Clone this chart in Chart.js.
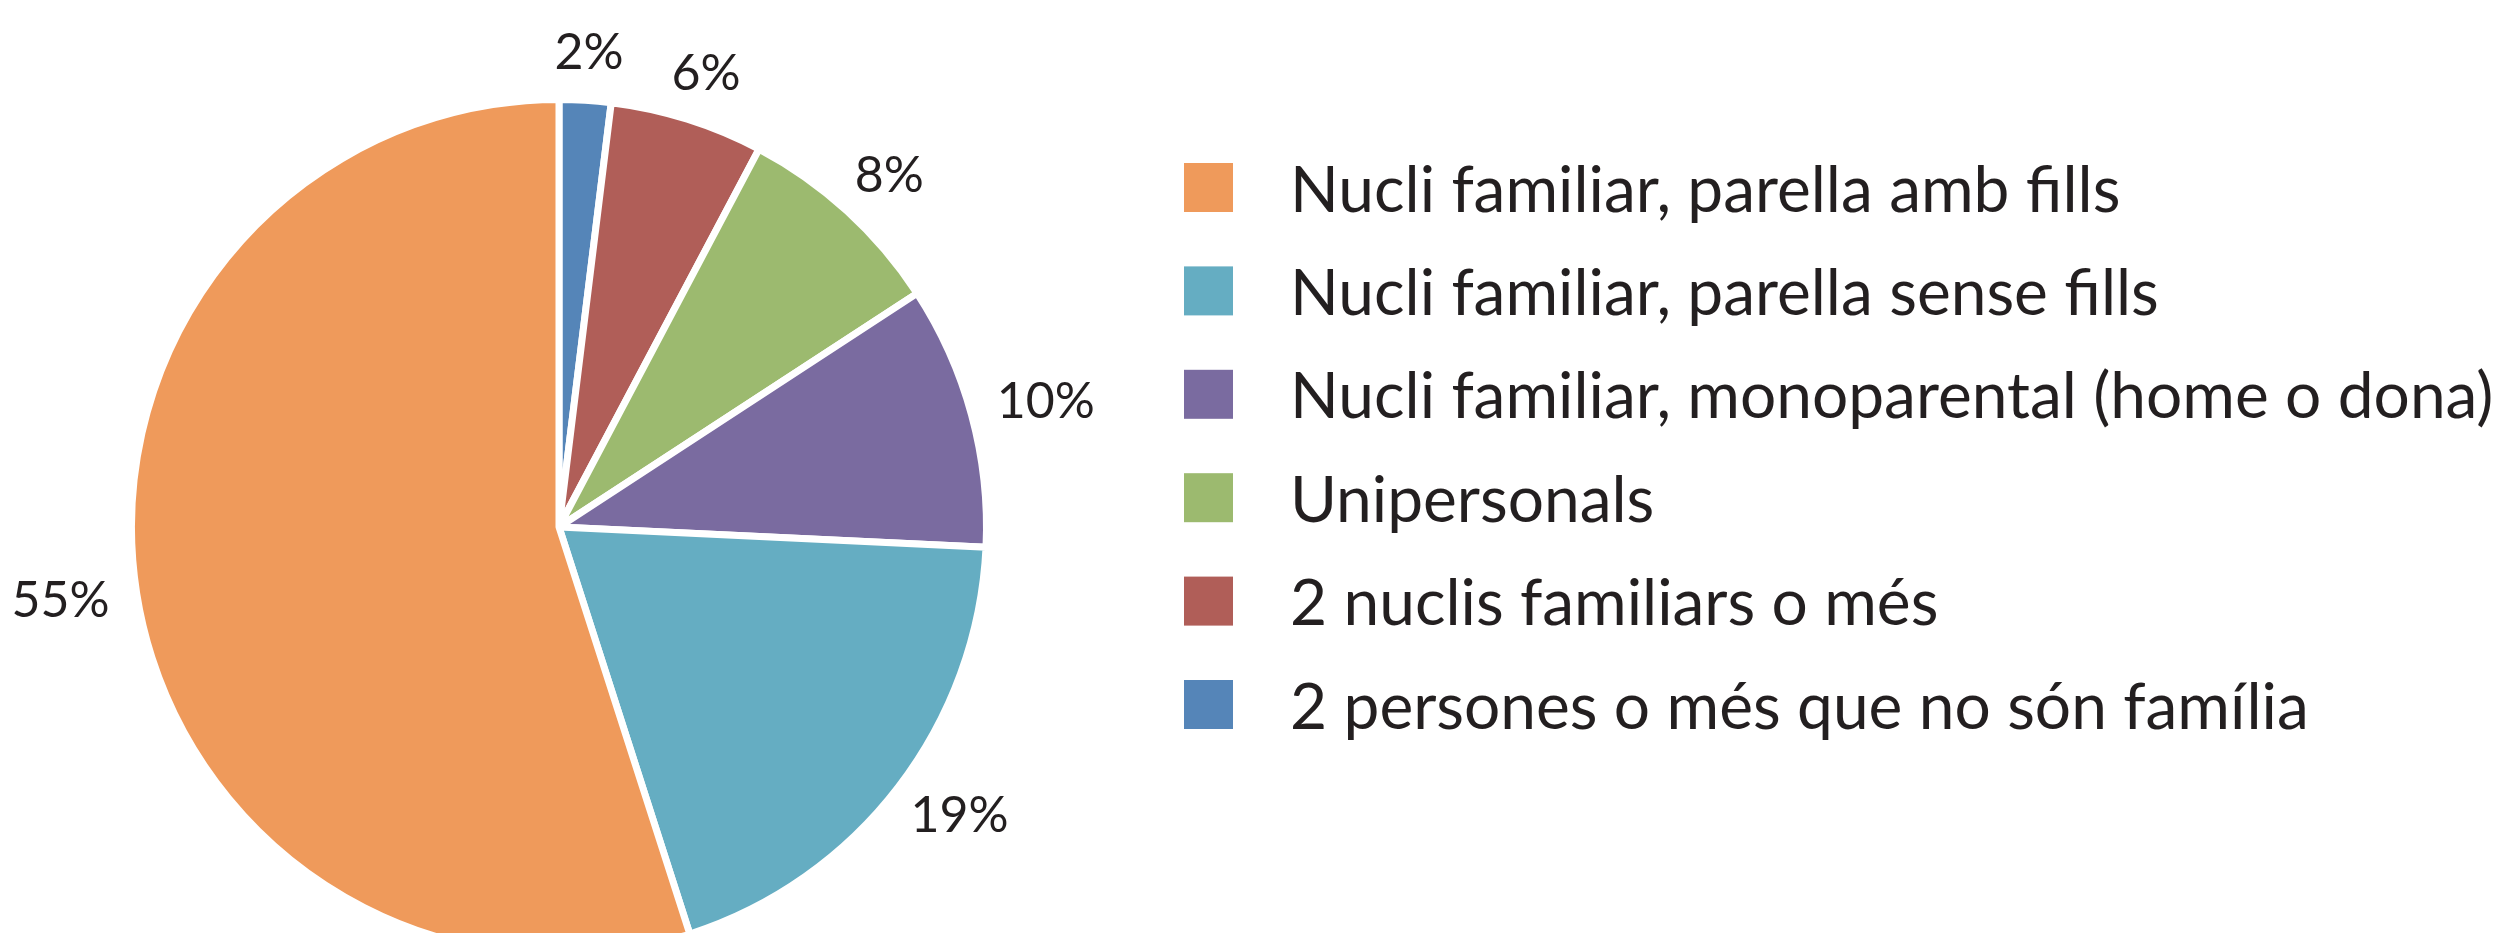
<!DOCTYPE html>
<html><head><meta charset="utf-8">
<script src="https://cdn.jsdelivr.net/npm/chart.js@4/dist/chart.umd.min.js"></script>
<style>html,body{margin:0;padding:0;background:#fff;overflow:hidden}#wrap{width:2502px;height:933px}</style>
</head><body><div id="wrap"><canvas id="c" width="2502" height="933"></canvas></div>
<script>
const categories = [
  "Nucli familiar, parella amb fills",
  "Nucli familiar, parella sense fills",
  "Nucli familiar, monoparental (home o dona)",
  "Unipersonals",
  "2 nuclis familiars o més",
  "2 persones o més que no són família"
];
const shares = [54.95, 19.3, 9.95, 8.05, 5.8, 1.95];
const colors = ["#EF9A5B", "#65ADC2", "#7A6BA0", "#9CBA6F", "#B05E58", "#5585B8"];

const TEXT = "#231f20";
const LEGEND_FONT = "64px Lato";
const LABEL_FONT = "50px Lato";

// slices are drawn clockwise from the top in the reverse of legend order
const drawOrder = categories.map((_, i) => categories.length - 1 - i);

const pctLabels = {
  id: "pctLabels",
  afterDatasetsDraw(chart) {
    const ctx = chart.ctx;
    const meta = chart.getDatasetMeta(0);
    const ds = chart.data.datasets[0];
    ctx.save();
    ctx.font = LABEL_FONT;
    ctx.fillStyle = TEXT;
    ctx.textAlign = "center";
    ctx.textBaseline = "middle";
    meta.data.forEach((arc, i) => {
      const p = arc.getProps(["x", "y", "startAngle", "endAngle", "outerRadius"], true);
      const mid = (p.startAngle + p.endAngle) / 2;
      const txt = Math.round(ds.data[i]) + "%";
      const w = ctx.measureText(txt).width, h = 40;
      const r = p.outerRadius + 28;
      const ax = p.x + Math.cos(mid) * r, ay = p.y + Math.sin(mid) * r;
      ctx.fillText(txt, ax + Math.cos(mid) * w / 2, ay + Math.sin(mid) * h / 2);
    });
    ctx.restore();
  }
};

const sideLegend = {
  id: "sideLegend",
  afterDraw(chart) {
    const ctx = chart.ctx;
    const boxX = 1184, boxSize = 49, top0 = 163, step = 103.4, textX = 1290;
    ctx.save();
    ctx.font = LEGEND_FONT;
    ctx.textAlign = "left";
    ctx.textBaseline = "alphabetic";
    categories.forEach((name, i) => {
      const top = top0 + i * step;
      ctx.fillStyle = colors[i];
      ctx.fillRect(boxX, top, boxSize, boxSize);
      ctx.fillStyle = TEXT;
      ctx.fillText(name, textX, top + boxSize / 2 + 24);
    });
    ctx.restore();
  }
};

new Chart(document.getElementById("c"), {
  type: "pie",
  data: {
    labels: drawOrder.map(i => categories[i]),
    datasets: [{
      data: drawOrder.map(i => shares[i]),
      backgroundColor: drawOrder.map(i => colors[i]),
      borderColor: "#ffffff",
      borderWidth: 7
    }]
  },
  options: {
    responsive: false,
    animation: false,
    radius: 427.5,
    layout: { padding: { left: 0, right: 1384, top: 121, bottom: 0 } },
    plugins: { legend: { display: false }, tooltip: { enabled: false } }
  },
  plugins: [pctLabels, sideLegend]
});
</script>
</body></html>
